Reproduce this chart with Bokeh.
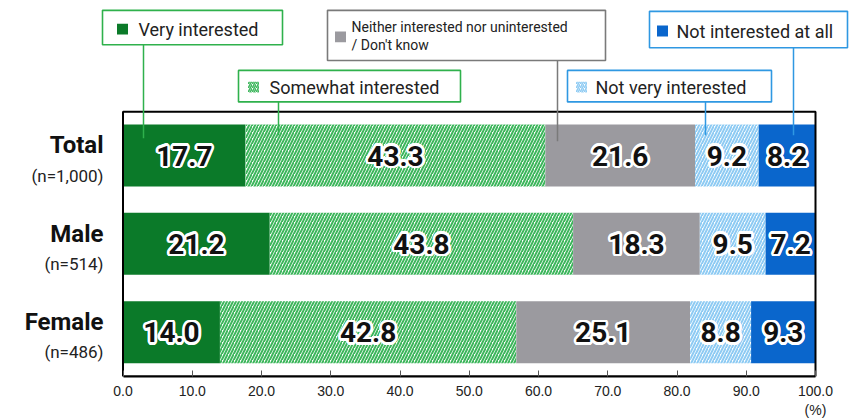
from bokeh.plotting import figure
from bokeh.models import Range1d, FixedTicker, PrintfTickFormatter, ColumnDataSource
from bokeh.core.properties import value
from bokeh.embed import file_html
from bokeh.resources import INLINE
import math

# ---------------- data ----------------
categories = ["Total", "Male", "Female"]
sample_sizes = ["(n=1,000)", "(n=514)", "(n=486)"]
series_names = ["Very interested", "Somewhat interested",
                "Neither interested nor uninterested / Don't know",
                "Not very interested", "Not interested at all"]
very_interested = [17.7, 21.2, 14.0]
somewhat_interested = [43.3, 43.8, 42.8]
neither_dont_know = [21.6, 18.3, 25.1]
not_very_interested = [9.2, 9.5, 8.8]
not_interested_at_all = [8.2, 7.2, 9.3]
x_ticks = [0, 10, 20, 30, 40, 50, 60, 70, 80, 90, 100]

series_values = [very_interested, somewhat_interested, neither_dont_know,
                 not_very_interested, not_interested_at_all]

# ---------------- styles ----------------
DARK_GREEN = "#0b7a29"
HATCH_GREEN = "#3db65c"
GREY = "#9b9a9f"
HATCH_BLUE = "#8ecbf3"
BLUE = "#0a66cc"
BOX_GREEN = "#2fb14c"
BOX_GREY = "#7a7a7a"
BOX_BLUE = "#2f98e2"
FONT = value("Roboto")

series_styles = [
    dict(fill_color=DARK_GREEN),
    dict(fill_color="white", hatch_pattern="/", hatch_color=HATCH_GREEN, hatch_scale=6, hatch_weight=2),
    dict(fill_color=GREY),
    dict(fill_color="white", hatch_pattern="/", hatch_color=HATCH_BLUE, hatch_scale=6, hatch_weight=2),
    dict(fill_color=BLUE),
]

# layout helpers (pixel -> data)
X0_PX, PX_PER_UNIT = 122.5, 6.925
ROW0_PY, PX_PER_ROW = 157.5, 89.75
def dx(px):
    return (px - X0_PX) / PX_PER_UNIT
def dy(py):
    return (py - ROW0_PY) / PX_PER_ROW

W, H = 850, 420
AXIS_PY = 382
p = figure(width=W, height=H, output_backend="svg", toolbar_location=None,
           x_range=Range1d(dx(0), dx(W)), y_range=Range1d(dy(AXIS_PY), dy(0)),
           y_axis_location=None, min_border_left=0, min_border_right=0,
           min_border_top=0, min_border_bottom=H - AXIS_PY)
p.outline_line_color = None
p.grid.visible = False
p.background_fill_color = "white"

rows = list(range(len(categories)))
BAR_H = 63 / PX_PER_ROW

# bars
lefts = [0.0] * len(categories)
label_x, label_y, label_t = [], [], []
for vals, st in zip(series_values, series_styles):
    rights = [l + v for l, v in zip(lefts, vals)]
    src = ColumnDataSource(dict(y=rows, left=lefts, right=rights))
    p.hbar(y="y", left="left", right="right", height=BAR_H, source=src,
           line_color=None, **st)
    for r, l, v in zip(rows, lefts, vals):
        label_x.append(l + v / 2)
        label_y.append(r)
        label_t.append(f"{v:.1f}")
    lefts = rights

# frame box
p.quad(left=[0], right=[100], top=[dy(113)], bottom=[dy(AXIS_PY)],
       fill_color=None, line_color="black", line_width=2)

# legend callouts
callouts = [
    dict(box=(102, 10, 282, 45), mk=(122, 29), tx=138, lines=[(series_names[0], 29)], fs="18px",
         bc=BOX_GREEN, st=series_styles[0], cx=143, c0=45, c1=140),
    dict(box=(238, 71, 460, 103), mk=(253, 88), tx=269, lines=[(series_names[1], 88)], fs="18px",
         bc=BOX_GREEN, st=series_styles[1], cx=278, c0=103, c1=137),
    dict(box=(327, 10, 605, 61), mk=(340, 37), tx=351,
         lines=[("Neither interested nor uninterested", 27), ("/ Don't know", 45)], fs="14px",
         bc=BOX_GREY, st=series_styles[2], cx=557, c0=61, c1=143),
    dict(box=(567, 71, 771, 103), mk=(581, 88), tx=595, lines=[(series_names[3], 88)], fs="18px",
         bc=BOX_BLUE, st=series_styles[3], cx=705, c0=103, c1=137),
    dict(box=(649, 11, 847, 48), mk=(662, 31), tx=676, lines=[(series_names[4], 31)], fs="18px",
         bc=BOX_BLUE, st=series_styles[4], cx=793, c0=48, c1=137),
]
MK = 5.5
for c in callouts:
    l, t, r, b = c["box"]
    p.segment(x0=[dx(c["cx"])], y0=[dy(c["c0"])], x1=[dx(c["cx"])], y1=[dy(c["c1"])],
              line_color=c["bc"], line_width=1.5)
    p.quad(left=[dx(l)], right=[dx(r)], top=[dy(t)], bottom=[dy(b)],
           fill_color="white", line_color=c["bc"], line_width=1.6)
    mst = dict(c["st"])
    if "hatch_scale" in mst:
        mst["hatch_scale"] = 4
        mst["hatch_weight"] = 1.5
    mx, my = c["mk"]
    p.quad(left=[dx(mx - MK)], right=[dx(mx + MK)], top=[dy(my - MK)],
           bottom=[dy(my + MK)], line_color=None, **mst)
    for txt, ty in c["lines"]:
        p.text(x=[dx(c["tx"])], y=[dy(ty)], text=[txt], text_font=FONT,
               text_font_size=c["fs"], text_color="#222222",
               text_baseline="middle", text_align="left")

# value labels with white halo
vsrc = ColumnDataSource(dict(x=label_x, y=label_y, t=label_t))
for k in range(16):
    a = 2 * math.pi * k / 16
    p.text(x="x", y="y", text="t", source=vsrc, text_font=FONT, text_font_style="bold",
           text_font_size="28px", text_color="white", text_align="center",
           text_baseline="middle", x_offset=2.6 * math.cos(a), y_offset=2.6 * math.sin(a))
p.text(x="x", y="y", text="t", source=vsrc, text_font=FONT, text_font_style="bold",
       text_font_size="28px", text_color="#111111", text_align="center",
       text_baseline="middle")

# row labels
p.text(x=[dx(103)] * len(rows), y=[r + dy(147) for r in rows], text=categories,
       text_font=FONT, text_font_style="bold", text_font_size="24px", text_color="#111111",
       text_align="right", text_baseline="middle")
p.text(x=[dx(103)] * len(rows), y=[r + dy(178) for r in rows], text=sample_sizes,
       text_font=FONT, text_font_size="17px", text_color="#222222",
       text_align="right", text_baseline="middle")

# x axis
ax = p.xaxis[0]
ax.bounds = (0, 100)
ax.ticker = FixedTicker(ticks=x_ticks)
ax.formatter = PrintfTickFormatter(format="%.1f")
ax.major_label_overrides = {100: "100.0\n(%)"}
ax.axis_line_color = "black"
ax.axis_line_width = 2
ax.major_tick_in = 6
ax.major_tick_out = 0
ax.major_tick_line_color = "#555555"
ax.minor_tick_line_color = None
ax.major_label_text_font = "Liberation Sans"
ax.major_label_text_font_size = "14px"
ax.major_label_text_color = "#222222"
ax.major_label_standoff = 6

open("out.html", "w").write(file_html(p, INLINE))
